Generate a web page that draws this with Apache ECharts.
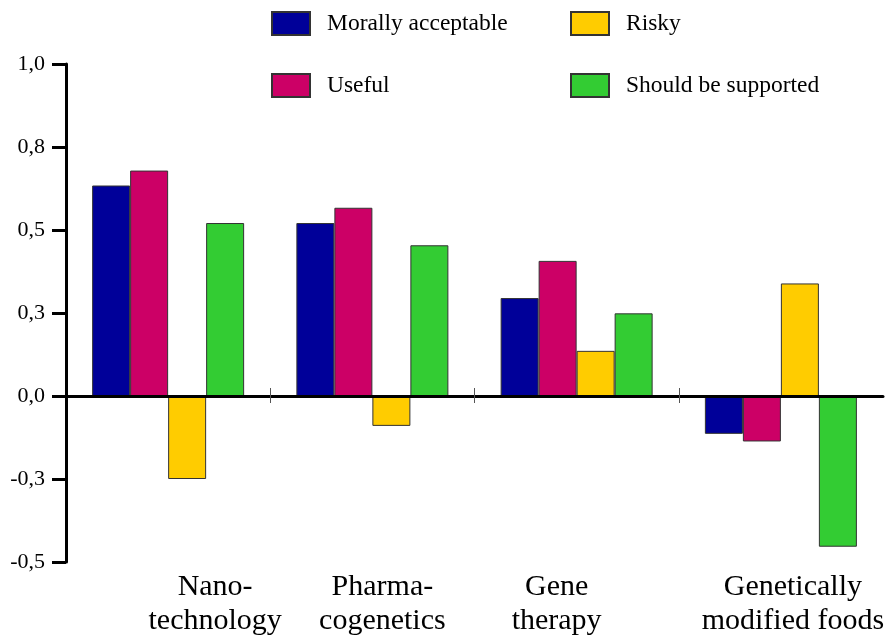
<!DOCTYPE html>
<html>
<head>
<meta charset="utf-8">
<script src="https://cdn.jsdelivr.net/npm/echarts@6/dist/echarts.min.js"></script>
<style>
  html, body {margin: 0; padding: 0; background: #fff;}
  #chart {width: 894px; height: 641px;}
</style>
</head>
<body>
<div id="chart"></div>
<script>
// 分类和数据
var categories = ['Nano-\ntechnology', 'Pharma-\ncogenetics', 'Gene\ntherapy', 'Genetically\nmodified foods'];
var seriesNames = ['Morally acceptable', 'Useful', 'Risky', 'Should be supported'];
var moral = [0.634, 0.521, 0.295, -0.114];
var useful = [0.679, 0.567, 0.407, -0.137];
var risky = [-0.25, -0.09, 0.136, 0.339];
var supported = [0.521, 0.454, 0.249, -0.454];
var yTicks = [-0.5, -0.25, 0, 0.25, 0.5, 0.75, 1.0];
var yTickLabels = ['-0,5', '-0,3', '0,0', '0,3', '0,5', '0,8', '1,0'];
// separators between the groups (no tick at the ends)
var groupBounds = [1, 2, 3];

var colors = ['#000099', '#cc0066', '#ffcc00', '#33cc33'];
var serif = '"Liberation Serif", "Times New Roman", serif';

var myChart = echarts.init(document.getElementById('chart'));

// label shift per category (the original labels are placed by hand)
var labelPad = [[0, 0, 0, 94], [0, 0, 0, 20], [0, 40, 0, 0], [0, 0, 0, 24]];
var catData = categories.map(function (c, i) {
  return {value: c, textStyle: {padding: labelPad[i]}};
});

function legendAt(name, left, top) {
  return {
    data: [{name: name, icon: 'rect'}],
    left: left,
    top: top,
    itemWidth: 38,
    itemHeight: 23,
    itemGap: 0,
    padding: 0,
    textStyle: {fontFamily: serif, fontSize: 23.5, color: '#000', padding: [0, 0, 0, 12]},
    selectedMode: false
  };
}

// tick-only axis lying on the zero line
function tickAxis(yIdx, inside, len) {
  return {
    type: 'value',
    min: 0,
    max: categories.length,
    position: 'bottom',
    z: 5,
    splitLine: {show: false},
    axisLine: {onZero: true, onZeroAxisIndex: yIdx, show: false},
    axisTick: {show: true, inside: inside, length: len, customValues: groupBounds,
      lineStyle: {color: '#555', width: 1}},
    axisLabel: {show: false}
  };
}

var data = [moral, useful, risky, supported];

var yBase = {
  type: 'value',
  min: -0.5,
  max: 1.0,
  interval: 0.25,
  splitLine: {show: false}
};
var yHidden = Object.assign({}, yBase, {
  position: 'left',
  axisLine: {show: false},
  axisTick: {show: false},
  axisLabel: {show: false}
});

var option = {
  animation: false,
  color: colors,
  legend: [
    legendAt(seriesNames[0], 271, 11),
    legendAt(seriesNames[1], 271, 73),
    legendAt(seriesNames[2], 570, 11),
    legendAt(seriesNames[3], 570, 73)
  ],
  grid: {left: 66, right: 11, top: 64, bottom: 79},
  xAxis: [{
    type: 'category',
    data: categories,
    position: 'bottom',
    z: 5,
    axisLine: {onZero: true, onZeroAxisIndex: 0, lineStyle: {color: '#000', width: 3}},
    axisTick: {show: false},
    axisLabel: {show: false}
  },
  tickAxis(1, false, 7),
  tickAxis(2, true, 8),
  {
    type: 'category',
    data: catData,
    position: 'bottom',
    axisLine: {onZero: false, show: false},
    axisTick: {show: false},
    axisLabel: {
      interval: 0,
      hideOverlap: false,
      margin: 8,
      fontFamily: serif,
      fontSize: 30,
      lineHeight: 34,
      color: '#000'
    }
  }],
  yAxis: [Object.assign({}, yBase, {
    axisLine: {show: true, lineStyle: {color: '#000', width: 3}},
    axisTick: {show: true, length: 14, lineStyle: {color: '#000', width: 3}},
    axisLabel: {
      margin: 21,
      fontFamily: serif,
      fontSize: 22,
      color: '#000',
      formatter: function (v) {
        var idx = yTicks.indexOf(v);
        return idx >= 0 ? yTickLabels[idx] : '';
      }
    }
  }), yHidden, Object.assign({}, yHidden)],
  series: seriesNames.map(function (name, i) {
    return {
      name: name,
      type: 'bar',
      xAxisIndex: 0,
      yAxisIndex: 0,
      barWidth: 38,
      barGap: '0%',
      itemStyle: {borderColor: '#333', borderWidth: 1},
      data: data[i]
    };
  })
};

myChart.setOption(option, true);
</script>
</body>
</html>
